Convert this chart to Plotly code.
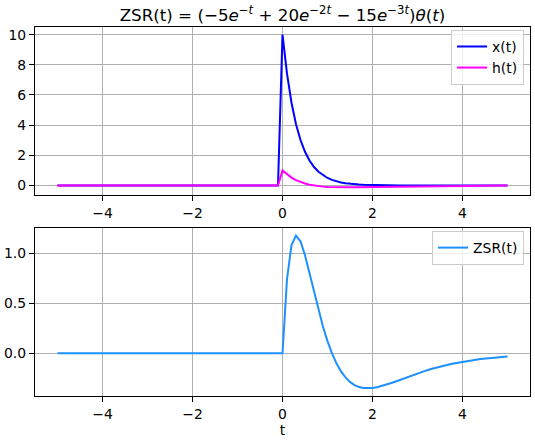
import plotly.graph_objects as go

# time samples (s): flat zero region, then 0.1-step grid from 0 to 5
T = [-5.0, -0.1,
     0.0, 0.1, 0.2, 0.3, 0.4, 0.5, 0.6, 0.7, 0.8, 0.9,
     1.0, 1.1, 1.2, 1.3, 1.4, 1.5, 1.6, 1.7, 1.8, 1.9,
     2.0, 2.1, 2.2, 2.3, 2.4, 2.5, 2.6, 2.7, 2.8, 2.9,
     3.0, 3.1, 3.2, 3.3, 3.4, 3.5, 3.6, 3.7, 3.8, 3.9,
     4.0, 4.1, 4.2, 4.3, 4.4, 4.5, 4.6, 4.7, 4.8, 4.9, 5.0]

X_T = [0.0, 0.0,
       10.0, 7.408, 5.488, 4.066, 3.012, 2.231, 1.653, 1.225, 0.907, 0.672,
       0.498, 0.369, 0.273, 0.202, 0.150, 0.111, 0.082, 0.061, 0.045, 0.034,
       0.025, 0.018, 0.014, 0.010, 0.0075, 0.0055, 0.0041, 0.0030, 0.0023, 0.0017,
       0.0012, 0.0009, 0.0007, 0.0005, 0.0004, 0.0003, 0.0002, 0.0002, 0.0001, 0.0001,
       0.0001, 0.0, 0.0, 0.0, 0.0, 0.0, 0.0, 0.0, 0.0, 0.0, 0.0]

H_T = [0.0, 0.0,
       1.0, 0.7326, 0.5219, 0.3568, 0.2283, 0.1292, 0.0536, -0.0034, -0.0455, -0.0760,
       -0.0972, -0.1113, -0.1198, -0.1240, -0.1250, -0.1236, -0.1204, -0.1159, -0.1107, -0.1048,
       -0.0987, -0.0925, -0.0862, -0.0802, -0.0743, -0.0686, -0.0632, -0.0582, -0.0534, -0.0490,
       -0.0448, -0.0410, -0.0374, -0.0342, -0.0311, -0.0284, -0.0258, -0.0235, -0.0214, -0.0194,
       -0.0176, -0.0160, -0.0145, -0.0132, -0.0120, -0.0109, -0.0098, -0.0089, -0.0081, -0.0073,
       -0.0066]

ZSR_T = [0.0, 0.0,
         0.0, 0.7382, 1.0806, 1.1736, 1.1171, 0.9780, 0.8003, 0.6122, 0.4305, 0.2650,
         0.1205, -0.0015, -0.1015, -0.1808, -0.2417, -0.2865, -0.3177, -0.3374, -0.3478, -0.3506,
         -0.3475, -0.3399, -0.3289, -0.3154, -0.3002, -0.2840, -0.2672, -0.2503, -0.2335, -0.2171,
         -0.2012, -0.1860, -0.1716, -0.1580, -0.1451, -0.1332, -0.1220, -0.1116, -0.1020, -0.0931,
         -0.0850, -0.0774, -0.0705, -0.0642, -0.0584, -0.0531, -0.0483, -0.0438, -0.0398, -0.0361,
         -0.0328]

FONT = "DejaVu Sans"
fig = go.Figure()
fig.add_trace(go.Scatter(x=T, y=X_T, mode="lines", name="x(t)",
                         line=dict(color="#0000ff", width=2), xaxis="x", yaxis="y", legend="legend"))
fig.add_trace(go.Scatter(x=T, y=H_T, mode="lines", name="h(t)",
                         line=dict(color="#ff00ff", width=2), xaxis="x", yaxis="y", legend="legend"))
fig.add_trace(go.Scatter(x=T, y=ZSR_T, mode="lines", name="ZSR(t)",
                         line=dict(color="#1e90ff", width=2), xaxis="x2", yaxis="y2", legend="legend2"))

ax_common = dict(showline=True, linecolor="black", linewidth=1.2, mirror=True,
                 ticks="outside", ticklen=5, tickwidth=1, tickcolor="black",
                 showgrid=True, gridcolor="#b0b0b0", gridwidth=0.8, zeroline=False,
                 automargin=False,
                 tickfont=dict(family=FONT, size=13.9, color="black"))

leg_common = dict(xanchor="right", yanchor="top", bgcolor="rgba(255,255,255,0.8)",
                  bordercolor="#cccccc", borderwidth=1, itemwidth=30,
                  font=dict(family=FONT, size=13.9))

fig.update_layout(
    width=535, height=440, autosize=False,
    margin=dict(l=35, r=5, t=27, b=44, autoexpand=False),
    plot_bgcolor="white", paper_bgcolor="white",
    font=dict(family=FONT, size=13.9, color="black"),
    title=dict(text="ZSR(t) = (−5<i>e</i><sup>−<i>t</i></sup> + 20<i>e</i><sup>−2<i>t</i></sup> − 15<i>e</i><sup>−3<i>t</i></sup>)<i>θ</i>(<i>t</i>)",
               x=(35 + 530) / 2 / 535, xanchor="center", y=1 - 15 / 440, yanchor="middle",
               font=dict(family=FONT, size=16.7, color="black")),
    xaxis=dict(range=[-5.5, 5.5], tickvals=[-4, -2, 0, 2, 4], anchor="y", **ax_common),
    yaxis=dict(range=[-0.631, 10.506], tickvals=[0, 2, 4, 6, 8, 10], domain=[0.5447, 1.0], anchor="x", **ax_common),
    xaxis2=dict(range=[-5.5, 5.5], tickvals=[-4, -2, 0, 2, 4], anchor="y2",
                title=dict(text="t", standoff=4, font=dict(family=FONT, size=13.9)), **ax_common),
    yaxis2=dict(range=[-0.4268, 1.2498], tickvals=[0.0, 0.5, 1.0], ticktext=["0.0", "0.5", "1.0"],
                domain=[0.0, 0.4553], anchor="x2", **ax_common),
    legend=dict(x=0.988, y=0.992, **leg_common),
    legend2=dict(x=0.988, y=0.447, **leg_common),
)

fig.write_html("out.html", config={"responsive": False, "displayModeBar": False},
               post_script="document.body.style.margin='0';document.body.style.padding='0';")
